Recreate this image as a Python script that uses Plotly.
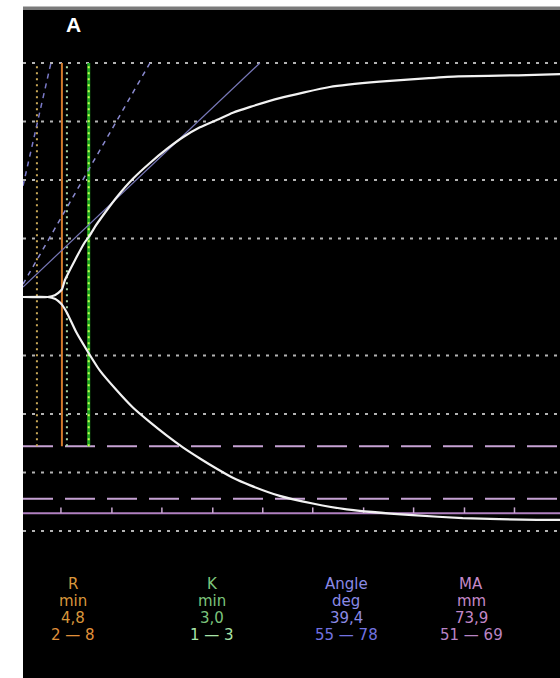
import plotly.graph_objects as go

# ---------------- data (time in min, amplitude in mm, half-width) ----------------
upper_t = [0.44, 3.2, 4.0, 4.4, 4.8, 5.14, 6.26, 7.38, 7.83, 8.5, 9.62, 10.96, 12.75,
           14.66, 16.56, 18.35, 20.26, 22.2, 23.95, 25.9, 29.2, 34.8, 40.4, 45.9, 49.2, 55.9, 60.6]
upper_amp = [0, 0, 0.3, 0.7, 1.3, 2.9, 6.3, 9.4, 10.3, 12.0, 14.4, 17.1, 20.2,
             22.9, 25.3, 27.3, 29.0, 30.3, 31.5, 32.5, 34.0, 35.9, 36.8, 37.4, 37.7, 37.9, 38.1]
lower_t = [0.44, 3.2, 4.0, 4.4, 4.8, 5.36, 6.4, 7.6, 9.06, 10.96, 12.75, 14.66, 16.56, 18.35,
           20.26, 22.2, 23.95, 25.9, 29.2, 32.9, 36.7, 44.1, 49.7, 58.0, 60.6]
lower_amp = [0, 0, -0.3, -0.7, -1.3, -2.7, -6.0, -9.1, -12.6, -16.0, -18.9, -21.4, -23.7, -25.7,
             -27.6, -29.4, -30.9, -32.2, -34.0, -35.3, -36.3, -37.3, -37.8, -38.1, -38.1]

grid_levels = [-40, -30, -20, -10, 10, 20, 30, 40]

# vertical markers (min)
r_low_t = 2.0
r_t = 4.8
k_low_t = 5.36
k_t = 7.8
marker_top = 40
marker_bottom = -25.5

# MA reference (mm, full amplitude)
ma_limits = [51, 69]
ma_value = 73.9
ma_ticks_t = [4.69, 10.4, 16.0, 21.7, 27.3, 32.9, 38.6, 44.2, 49.9, 55.5]

# angle lines (two endpoints each)
angle_line_t = [0.44, 26.98]
angle_line_amp = [1.7, 40.0]
angle_low_t = [0.44, 14.66]
angle_low_amp = [2.2, 40.0]
angle_high_t = [0.44, 3.57]
angle_high_amp = [19.0, 40.0]

params = ["R", "K", "Angle", "MA"]
units = ["min", "min", "deg", "mm"]
values = ["4,8", "3,0", "39,4", "73,9"]
ranges = ["2 — 8", "1 — 3", "55 — 78", "51 — 69"]
col_colors = ["#d9973c", "#7cc47c", "#8a8ae6", "#c488c8"]
range_colors = ["#e0903a", "#a8e4a8", "#7272e0", "#b884c4"]
col_x_px = [73, 212, 346, 471]

X_RANGE = [0.44, 60.6]
Y_RANGE = [-41.54, 49.23]
W, H = 560, 678
ML, MR, MT, MB = 23, 0, 9, 138
PW, PH = W - ML - MR, H - MT - MB

fig = go.Figure()

shapes = []
# white frame on the left and top
shapes.append(dict(type="rect", xref="paper", yref="paper", x0=-ML / PW - 0.01, x1=0,
                   y0=-MB / PH - 0.02, y1=1 + MT / PH + 0.01, fillcolor="white", line=dict(width=0), layer="below"))
shapes.append(dict(type="rect", xref="paper", yref="paper", x0=-ML / PW - 0.01, x1=1.02,
                   y0=1, y1=1 + MT / PH + 0.01, fillcolor="white", line=dict(width=0), layer="below"))
shapes.append(dict(type="rect", xref="paper", yref="paper", x0=0, x1=1.02,
                   y0=1 - 0.002, y1=1 + 2.5 / PH, fillcolor="#7a7a7a", line=dict(width=0), layer="below"))
# dotted gridlines
for g in grid_levels:
    shapes.append(dict(type="line", xref="x domain", yref="y", x0=0, x1=1, y0=g, y1=g,
                       line=dict(color="#b4b4b4", width=2, dash="3px,6px"), layer="below"))
# MA limits (dashed) and MA value (solid)
for m in ma_limits:
    shapes.append(dict(type="line", xref="x domain", yref="y", x0=0, x1=1, y0=-m / 2, y1=-m / 2,
                       line=dict(color="#c6a2d4", width=2, dash="30px,12px"), layer="below"))
shapes.append(dict(type="line", xref="x domain", yref="y", x0=0, x1=1, y0=-ma_value / 2, y1=-ma_value / 2,
                   line=dict(color="#b080c0", width=2), layer="below"))
# vertical markers
shapes.append(dict(type="line", xref="x", yref="y", x0=r_low_t, x1=r_low_t, y0=marker_bottom, y1=marker_top,
                   line=dict(color="#c8a858", width=2, dash="2px,4px"), layer="below"))
shapes.append(dict(type="line", xref="x", yref="y", x0=r_t, x1=r_t, y0=marker_bottom, y1=marker_top,
                   line=dict(color="#d27a2c", width=2), layer="below"))
shapes.append(dict(type="line", xref="x", yref="y", x0=k_low_t, x1=k_low_t, y0=marker_bottom, y1=marker_top,
                   line=dict(color="#a8d8a8", width=2, dash="2px,4px"), layer="below"))
shapes.append(dict(type="line", xref="x", yref="y", x0=k_t, x1=k_t, y0=marker_bottom, y1=marker_top,
                   line=dict(color="#22a822", width=3), layer="below"))
shapes.append(dict(type="line", xref="x", yref="y", x0=k_t, x1=k_t, y0=marker_bottom, y1=marker_top,
                   line=dict(color="#c8ff50", width=2, dash="2px,4px"), layer="below"))

# angle lines
fig.add_trace(go.Scatter(x=angle_high_t, y=angle_high_amp, mode="lines",
                         line=dict(color="#7a7ac8", width=1.5, dash="5px,5px"), hoverinfo="skip"))
fig.add_trace(go.Scatter(x=angle_low_t, y=angle_low_amp, mode="lines",
                         line=dict(color="#8a8ad0", width=1.5, dash="5px,5px"), hoverinfo="skip"))
fig.add_trace(go.Scatter(x=angle_line_t, y=angle_line_amp, mode="lines",
                         line=dict(color="#7878b8", width=1.2), hoverinfo="skip"))
# MA ticks
fig.add_trace(go.Scatter(x=ma_ticks_t, y=[-ma_value / 2 + 0.5] * len(ma_ticks_t), mode="markers",
                         marker=dict(symbol="line-ns", size=4, line=dict(color="#c8a8d0", width=1.5)),
                         hoverinfo="skip"))
# trace
fig.add_trace(go.Scatter(x=upper_t, y=upper_amp, mode="lines",
                         line=dict(color="#f2f2f2", width=2.2, shape="spline", smoothing=0.5), hoverinfo="skip"))
fig.add_trace(go.Scatter(x=lower_t, y=lower_amp, mode="lines",
                         line=dict(color="#f2f2f2", width=2.2, shape="spline", smoothing=0.5), hoverinfo="skip"))

annotations = []
annotations.append(dict(text="<b>A</b>", xref="paper", yref="paper",
                        x=(73 - ML) / PW, y=(540 - 25) / PH, showarrow=False,
                        font=dict(family="Liberation Sans, Arial", size=21, color="white"),
                        xanchor="center", yanchor="middle"))
rows = [params, units, values, ranges]
row_y_px = [584, 601, 618, 635]
for ri, (row, ypx) in enumerate(zip(rows, row_y_px)):
    for ci, txt in enumerate(row):
        color = range_colors[ci] if ri == 3 else col_colors[ci]
        annotations.append(dict(text=txt, xref="paper", yref="paper",
                                x=(col_x_px[ci] - ML) / PW, y=(540 - ypx) / PH,
                                showarrow=False, xanchor="center", yanchor="middle",
                                font=dict(family="DejaVu Sans, Verdana", size=15, color=color)))

fig.update_layout(
    width=W, height=H,
    margin=dict(l=ML, r=MR, t=MT, b=MB, pad=0),
    paper_bgcolor="black", plot_bgcolor="black",
    showlegend=False,
    xaxis=dict(range=X_RANGE, visible=False, showgrid=False, zeroline=False, fixedrange=True),
    yaxis=dict(range=Y_RANGE, visible=False, showgrid=False, zeroline=False, fixedrange=True),
    shapes=shapes, annotations=annotations,
)

fig.write_html("out.html",
               config={"displayModeBar": False, "staticPlot": True},
               post_script="document.documentElement.style.overflow='hidden';"
                           "document.body.style.overflow='hidden';"
                           "document.body.style.margin='0';"
                           "document.documentElement.style.background='black';"
                           "document.body.style.background='black';")
